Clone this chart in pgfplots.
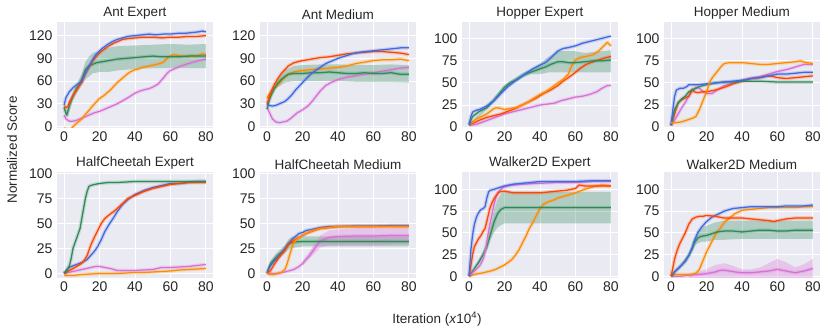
\documentclass[border=0pt]{standalone}
\usepackage{pgfplots}
\pgfplotsset{compat=1.18}
\usepackage{fontspec}
\setmainfont{Liberation Sans}

\definecolor{sbbg}{RGB}{234,234,242}
\definecolor{tk}{RGB}{38,38,38}
\definecolor{cblue}{RGB}{65,105,225}
\definecolor{cred}{RGB}{255,69,0}
\definecolor{cgreen}{RGB}{46,139,87}
\definecolor{corange}{RGB}{255,140,0}
\definecolor{cpink}{RGB}{218,112,214}

\pgfplotsset{
  sub/.style={
    scale only axis, width=156pt, height=106pt, anchor=south west,
    xmin=-4, xmax=84, xtick={0,20,40,60,80},
    axis background/.style={fill=sbbg},
    grid=major, major grid style={white, line width=0.9pt},
    axis line style={draw=none}, major tick length=0pt,
    tick label style={font=\fontsize{14}{14}\selectfont, text=tk,
      /pgf/number format/assume math mode=true},
    yticklabel style={xshift=-1pt},
    title style={font=\fontsize{13.5}{13.5}\selectfont, text=tk, yshift=-7pt},
  },
  ln/.style={no markers, line width=1.25pt, line join=round,
    preaction={draw, line width=3.6pt, opacity=0.22}},
  band/.style={draw=none, fill opacity=0.3, forget plot},
}

\begin{document}
\begin{tikzpicture}
\path[use as bounding box] (0,0) rectangle (830pt,334pt);

% ---------- Ant Expert
\begin{axis}[sub, at={(57pt,206pt)}, title={Ant Expert},
  ymin=-2, ymax=138, ytick={0,30,60,90,120}]
\addplot[band, fill=cgreen] coordinates {
 (0,27)(2,20)(5,45)(10,70)(12,85)(14,92)(16,97)(20,100)(25,104)(30,106)(40,107)(50,108)(60,109)(70,108)(80,109)
 (80,77)(70,77)(60,77)(50,77)(40,76)(30,74)(25,72)(20,72)(16,70)(14,66)(12,62)(10,55)(5,35)(2,12)(0,23)} -- cycle;
\addplot[ln, cpink] coordinates {
 (0,15)(1,10)(3,7)(5,7)(7,8)(9,10)(11,12)(13,14)(15,16)(17,18)(20,20)(23,23)(26,26)(30,30)(33,34)(36,38)(40,44)(43,47)(46,49)(48,50)(50,52)(53,56)(56,64)(58,70)(60,74)(63,77)(66,80)(70,83)(73,85)(76,87)(80,89)};
\addplot[ln, corange] coordinates {
 (0,-2)(2,-5)(4,-3)(6,2)(8,6)(10,10)(12,16)(14,21)(16,27)(18,32)(20,37)(22,40)(24,44)(26,48)(28,53)(30,58)(32,62)(34,66)(36,70)(38,73)(40,75)(42,76)(44,78)(46,79)(48,80)(50,81)(52,82)(54,83)(56,85)(58,90)(60,93)(62,95)(64,94)(66,93)(68,93)(70,92)(72,94)(74,93)(76,94)(78,96)(80,95)};
\addplot[ln, cgreen] coordinates {
 (0,25)(1,17)(1.5,15)(3,28)(5,40)(7,50)(9,57)(10,62)(12,75)(14,80)(16,82)(18,84)(20,85)(25,87)(30,89)(35,90)(40,91)(45,92)(50,93)(55,92)(60,92)(65,92)(70,93)(75,93)(80,93)};
\addplot[ln, cred] coordinates {
 (0,27)(1,25)(2,26)(3,32)(5,41)(7,48)(9,55)(10,58)(12,70)(14,78)(16,86)(18,92)(20,97)(22,101)(25,106)(28,110)(30,112)(33,115)(36,116)(40,117)(45,118)(50,118)(55,117)(60,118)(65,118)(70,119)(75,119)(80,120)};
\addplot[ln, cblue] coordinates {
 (0,28)(1,38)(2,42)(3,46)(5,51)(7,55)(9,58)(10,61)(12,70)(14,79)(16,88)(18,95)(20,100)(22,104)(25,109)(28,113)(30,115)(33,117)(36,119)(40,120)(44,121)(48,122)(52,121)(56,122)(60,122)(64,123)(68,123)(72,124)(76,125)(78,126)(80,125)};
\end{axis}

% ---------- Ant Medium
\begin{axis}[sub, at={(260pt,206pt)}, title={Ant Medium},
  ymin=-2, ymax=138, ytick={0,30,60,90,120}]
\addplot[band, fill=cgreen] coordinates {
 (0,25)(2,45)(5,60)(10,74)(15,80)(20,81)(30,82)(40,82)(50,81)(60,81)(70,82)(80,81)
 (80,58)(70,59)(60,59)(50,59)(40,60)(30,60)(20,60)(15,60)(10,58)(5,50)(2,36)(0,21)} -- cycle;
\addplot[ln, cpink] coordinates {
 (0,25)(1,20)(2,15)(3,10)(5,6)(7,5)(9,6)(11,7)(13,10)(15,14)(17,18)(20,22)(23,27)(25,32)(27,38)(30,47)(33,54)(36,58)(40,62)(45,65)(50,67)(55,69)(60,71)(65,73)(70,75)(75,77)(80,78)};
\addplot[ln, corange] coordinates {
 (0,37)(1,42)(2,45)(4,50)(6,55)(8,60)(10,65)(12,69)(15,72)(20,74)(25,75)(30,76)(35,77)(40,78)(45,80)(50,83)(55,85)(60,87)(65,88)(70,88)(75,89)(80,87)};
\addplot[ln, cgreen] coordinates {
 (0,23)(1,33)(2,40)(4,50)(6,57)(8,62)(10,66)(12,69)(15,70)(20,70)(25,71)(30,71)(35,72)(40,71)(45,70)(50,70)(55,71)(60,70)(65,70)(70,71)(75,69)(80,69)};
\addplot[ln, cred] coordinates {
 (0,30)(1,38)(2,45)(4,55)(6,63)(8,70)(10,75)(12,80)(15,84)(18,86)(20,87)(25,89)(30,91)(35,92)(40,94)(45,96)(50,97)(55,98)(60,99)(65,99)(70,98)(75,97)(80,95)};
\addplot[ln, cblue] coordinates {
 (0,30)(1,28)(3,27)(5,28)(7,30)(9,32)(10,33)(12,37)(14,42)(16,48)(18,53)(20,58)(22,63)(25,70)(28,75)(30,78)(33,83)(36,86)(40,90)(44,93)(48,96)(52,98)(56,99)(60,100)(64,101)(68,102)(72,103)(76,104)(80,104)};
\end{axis}

% ---------- Hopper Expert
\begin{axis}[sub, at={(462pt,206pt)}, title={Hopper Expert},
  ymin=-1, ymax=119, ytick={0,25,50,75,100}]
\addplot[band, fill=cgreen] coordinates {
 (0,3)(10,24)(20,48)(30,61)(35,66)(40,72)(45,80)(50,86)(55,86)(60,86)(65,84)(70,85)(75,86)(80,87)
 (80,62)(75,62)(70,62)(65,62)(60,62)(55,62)(50,62)(45,62)(40,60)(35,60)(30,56)(20,42)(10,20)(0,1)} -- cycle;
\addplot[ln, cpink] coordinates {
 (0,2)(4,3)(8,6)(12,9)(16,12)(20,15)(24,17)(28,19)(32,21)(36,23)(40,25)(44,26)(48,27)(52,30)(56,32)(60,34)(64,35)(68,37)(72,40)(75,44)(78,47)(80,47)};
\addplot[ln, cred] coordinates {
 (0,3)(3,5)(6,8)(10,11)(14,13)(18,15)(22,18)(26,21)(30,25)(34,29)(38,33)(42,38)(46,42)(50,47)(53,52)(56,56)(60,62)(63,67)(66,71)(70,74)(73,76)(76,78)(80,80)};
\addplot[ln, corange] coordinates {
 (0,3)(2,6)(4,9)(6,11)(8,13)(10,15)(12,18)(14,21)(16,22)(18,21)(20,20)(23,21)(26,22)(30,25)(33,28)(36,32)(40,37)(43,40)(46,44)(50,50)(53,54)(56,60)(58,70)(60,76)(63,79)(66,80)(70,82)(73,86)(76,92)(78,96)(80,92)};
\addplot[ln, cgreen] coordinates {
 (0,2)(1,8)(2,12)(4,15)(6,18)(8,20)(10,22)(12,26)(14,30)(16,35)(18,40)(20,45)(23,50)(26,53)(30,58)(33,61)(36,63)(40,66)(43,68)(46,71)(50,74)(53,74)(56,73)(60,73)(65,74)(70,75)(75,75)(80,76)};
\addplot[ln, cblue] coordinates {
 (0,3)(1,12)(2,17)(4,19)(6,20)(8,22)(10,24)(12,27)(14,30)(16,34)(18,38)(20,42)(22,46)(25,51)(28,55)(30,58)(33,62)(36,66)(40,70)(43,73)(46,78)(48,82)(50,86)(53,89)(56,90)(60,92)(64,95)(68,97)(72,99)(76,101)(80,103)};
\end{axis}

% ---------- Hopper Medium
\begin{axis}[sub, at={(664pt,206pt)}, title={Hopper Medium},
  ymin=-1, ymax=119, ytick={0,25,50,75,100}]
\addplot[ln, cpink] coordinates {
 (0,2)(2,8)(4,15)(6,22)(8,28)(10,35)(12,41)(14,45)(16,44)(18,40)(20,38)(23,38)(26,42)(30,47)(35,50)(40,53)(45,55)(50,57)(55,60)(60,63)(65,65)(70,68)(75,71)(80,71)};
\addplot[ln, cred] coordinates {
 (0,2)(2,15)(4,28)(6,31)(8,33)(10,35)(12,43)(13,40)(15,39)(18,40)(20,40)(25,42)(30,45)(35,49)(40,52)(45,55)(50,56)(55,58)(58,57)(60,56)(65,55)(70,56)(75,57)(80,58)};
\addplot[ln, cgreen] coordinates {
 (0,2)(1,12)(2,20)(4,27)(6,32)(8,35)(10,40)(13,43)(16,46)(20,48)(25,50)(30,51)(35,51)(40,52)(50,52)(60,51)(70,51)(80,51)};
\addplot[ln, cblue] coordinates {
 (0,2)(1,20)(2,35)(3,42)(5,44)(7,44)(9,46)(10,48)(12,48)(15,48)(20,49)(25,50)(30,51)(35,52)(40,53)(45,55)(50,56)(55,58)(60,60)(65,60)(70,61)(75,62)(80,62)};
\addplot[ln, corange] coordinates {
 (0,5)(3,5)(6,6)(9,8)(12,10)(14,12)(16,20)(18,30)(20,40)(22,52)(24,58)(26,63)(28,68)(30,72)(33,73)(36,73)(40,73)(45,72)(50,71)(55,71)(60,72)(65,73)(70,74)(73,75)(76,73)(80,72)};
\end{axis}

% ---------- HalfCheetah Expert
\begin{axis}[sub, at={(57pt,56pt)}, title={HalfCheetah Expert},
  ymin=-4.5, ymax=101.5, ytick={0,25,50,75,100}]
\addplot[ln, corange] coordinates {
 (0,-2)(5,-2)(10,-1)(15,-0.5)(20,0)(25,0)(30,0)(35,0.5)(40,1)(45,1)(50,1.5)(55,2)(60,2.5)(65,3.5)(70,4)(75,4.5)(80,5)};
\addplot[ln, cpink] coordinates {
 (0,0)(5,2)(10,4)(15,6)(18,7)(20,7)(23,6)(26,5)(30,3)(35,3)(40,3)(45,3.5)(50,4)(55,6)(60,6)(65,6.5)(70,7)(75,8)(80,9)};
\addplot[ln, cblue] coordinates {
 (0,0)(2,5)(4,7)(7,9)(10,11)(13,14)(15,18)(17,22)(19,27)(21,34)(23,42)(25,48)(28,56)(30,62)(33,69)(36,74)(40,79)(45,83)(50,86)(55,88)(60,90)(65,90)(70,91)(75,92)(80,92)};
\addplot[ln, cred] coordinates {
 (0,0)(3,3)(6,6)(9,9)(11,12)(13,18)(15,28)(17,36)(19,43)(21,50)(23,55)(25,58)(28,62)(30,65)(33,70)(36,75)(40,78)(45,82)(50,85)(55,87)(60,89)(65,90)(70,91)(75,91)(80,91)};
\addplot[ln, cgreen] coordinates {
 (0,0)(2,4)(3,8)(4,15)(5,25)(6,30)(7,35)(8,40)(9,45)(10,55)(11,65)(12,75)(13,82)(14,87)(15,88)(17,89)(20,90)(25,91)(30,91)(40,92)(50,92)(60,92)(70,92)(80,92)};
\end{axis}

% ---------- HalfCheetah Medium
\begin{axis}[sub, at={(260pt,56pt)}, title={HalfCheetah Medium},
  ymin=-4.5, ymax=101.5, ytick={0,25,50,75,100}]
\addplot[band, fill=cgreen] coordinates {
 (0,1)(2,13)(5,20)(8,25)(10,28)(12,34)(14,37)(16,37)(20,37)(40,37)(60,37)(80,37)
 (80,27)(60,27)(40,27)(20,27)(16,26)(14,25)(12,24)(10,20)(8,17)(5,13)(2,7)(0,-1)} -- cycle;
\addplot[band, fill=cpink] coordinates {
 (20,12)(25,25)(30,38)(35,43)(40,44)(50,45)(60,45)(70,45)(80,45)
 (80,29)(70,29)(60,28)(50,28)(40,28)(35,28)(30,26)(25,17)(20,8)} -- cycle;
\addplot[ln, cpink] coordinates {
 (0,0)(5,0)(10,1.5)(15,4)(18,7)(20,10)(22,14)(24,18)(26,23)(28,28)(30,32)(32,34)(35,36)(40,37)(50,37.5)(60,37.5)(70,38)(80,38)};
\addplot[ln, cgreen] coordinates {
 (0,0)(1,6)(2,10)(4,14)(6,18)(8,21)(10,24)(12,29)(14,31)(16,31.5)(20,32)(30,32)(40,32)(50,32)(60,32)(70,32)(80,32)};
\addplot[ln, cblue] coordinates {
 (0,0)(1,5)(2,8)(4,12)(6,16)(8,20)(10,25)(12,30)(14,34)(16,37)(18,40)(20,41)(22,43)(25,44)(30,46)(35,47)(40,47)(50,47.5)(60,47.5)(70,48)(80,48)};
\addplot[ln, cred] coordinates {
 (0,0)(2,3)(4,9)(6,14)(8,19)(10,23)(12,29)(14,32)(16,34)(18,36)(20,38)(22,40)(25,42)(28,44)(30,45)(35,46)(40,47)(50,47)(60,47)(70,47)(80,47)};
\addplot[ln, corange] coordinates {
 (0,0)(2,-1)(4,-1)(6,0)(8,1)(10,4)(11,8)(12,14)(13,20)(14,26)(15,30)(16,33)(18,36)(20,38)(23,41)(26,43)(30,45)(35,46)(40,47)(50,47)(60,47)(70,47)(80,47)};
\end{axis}

% ---------- Walker2D Expert
\begin{axis}[sub, at={(462pt,56pt)}, title={Walker2D Expert},
  ymin=-2, ymax=120, ytick={0,25,50,75,100}]
\addplot[band, fill=cgreen] coordinates {
 (0,0)(5,17)(10,38)(12,56)(14,75)(16,88)(18,95)(20,97)(40,97)(60,97)(80,97)
 (80,61)(60,61)(40,61)(20,61)(18,59)(16,56)(14,50)(12,42)(10,30)(5,13)(0,0)} -- cycle;
\addplot[ln, corange] coordinates {
 (0,0)(2,1.5)(5,3)(8,4)(10,5)(12,6)(15,8)(18,11)(20,13)(22,16)(24,19)(26,24)(28,30)(30,38)(32,46)(34,55)(36,62)(38,70)(40,78)(42,83)(45,86)(48,88)(50,90)(55,93)(60,96)(65,100)(70,103)(75,105)(80,104)};
\addplot[ln, cgreen] coordinates {
 (0,0)(2,6)(4,12)(6,18)(8,25)(10,34)(12,48)(14,62)(16,72)(18,77)(20,79)(30,79)(40,79)(50,79)(60,79)(70,79)(80,79)};
\addplot[ln, cpink] coordinates {
 (0,0)(2,4)(4,8)(6,12)(8,20)(9,28)(10,40)(11,52)(12,62)(13,72)(14,82)(15,90)(16,95)(17,98)(19,102)(22,104)(25,105)(30,106)(40,107)(50,108)(60,108)(70,109)(80,109)};
\addplot[ln, cred] coordinates {
 (0,0)(1,12)(2,25)(3,34)(5,42)(7,48)(8,52)(9,55)(10,63)(11,72)(12,80)(13,85)(14,89)(15,92)(16,95)(17,97)(20,98)(25,96)(30,96)(35,96)(40,96)(45,97)(50,98)(55,99)(60,101)(62,105)(65,104)(70,104)(75,104)(80,104)};
\addplot[ln, cblue] coordinates {
 (0,0)(0.5,15)(1,30)(2,48)(3,60)(4,67)(5,72)(6,75)(7,77)(8,78)(9,80)(10,90)(11,97)(12,99)(14,100)(17,102)(20,104)(25,106)(30,107)(40,109)(50,109)(60,109)(70,110)(80,110)};
\end{axis}

% ---------- Walker2D Medium
\begin{axis}[sub, at={(664pt,56pt)}, title={Walker2D Medium},
  ymin=-2, ymax=120, ytick={0,25,50,75,100}]
\addplot[band, fill=cgreen] coordinates {
 (0,0)(5,12)(10,26)(13,44)(15,52)(18,57)(20,58)(25,62)(30,64)(40,64)(50,64)(60,64)(70,64)(80,64)
 (80,43)(70,43)(60,43)(50,43)(40,43)(30,42)(25,42)(20,40)(18,40)(15,38)(13,34)(10,22)(5,10)(0,0)} -- cycle;
\addplot[band, fill=cpink] coordinates {
 (10,2)(20,8)(25,13)(30,15)(35,12)(40,8)(45,8)(50,10)(55,15)(60,20)(65,16)(70,10)(75,14)(80,20)
 (80,-2)(70,-2)(60,-2)(50,-2)(40,-2)(30,-2)(20,-2)(10,-2)} -- cycle;
\addplot[ln, cpink] coordinates {
 (0,0)(5,0)(10,1)(15,2)(20,3)(25,5)(28,7)(30,7)(33,6)(36,5)(40,4)(45,4)(50,5)(55,6)(60,8)(65,6)(70,4)(75,6)(80,9)};
\addplot[ln, corange] coordinates {
 (0,0)(2,2)(5,2)(8,2)(10,2)(12,2.5)(14,3.5)(16,8)(18,18)(20,28)(22,36)(24,44)(26,51)(28,56)(30,62)(33,67)(36,72)(40,76)(45,77)(50,78)(55,79)(60,79)(65,79)(70,79)(75,80)(80,80)};
\addplot[ln, cgreen] coordinates {
 (0,0)(2,5)(4,9)(6,13)(8,18)(10,24)(12,32)(13,38)(15,44)(17,46)(20,47)(23,49)(26,51)(30,52)(35,52)(40,51)(45,52)(50,53)(55,53)(60,52)(65,52)(70,53)(75,53)(80,53)};
\addplot[ln, cblue] coordinates {
 (0,0)(2,5)(4,9)(6,13)(8,17)(10,24)(12,33)(13,40)(15,50)(17,56)(20,63)(23,68)(26,71)(30,75)(35,78)(40,79)(45,80)(50,80)(55,80)(60,80)(65,81)(70,81)(75,81)(80,82)};
\addplot[ln, cred] coordinates {
 (0,0)(1,10)(2,20)(3,27)(4,33)(5,38)(6,42)(7,46)(8,50)(9,55)(10,60)(11,63)(12,66)(14,68)(16,69)(18,69)(20,70)(25,69)(30,67)(35,67)(40,67)(45,66)(50,65)(55,64)(58,63)(60,64)(65,66)(70,67)(75,67)(80,67)};
\end{axis}

\node[rotate=90, text=tk, font=\fontsize{13.5}{13.5}\selectfont] at (12pt,184pt) {Normalized Score};
\node[text=tk, font=\fontsize{13.5}{13.5}\selectfont] at (437pt,15pt) {Iteration (\textit{x}10\textsuperscript{4})};
\end{tikzpicture}
\end{document}
